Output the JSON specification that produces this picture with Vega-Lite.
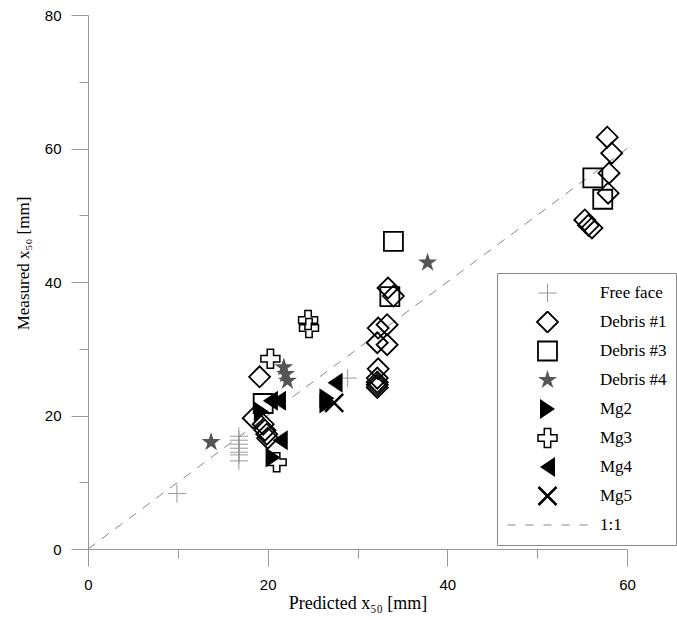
{
  "$schema": "https://vega.github.io/schema/vega-lite/v6.json",
  "width": 539,
  "height": 534,
  "autosize": "none",
  "padding": {"left": 88, "top": 15, "right": 50, "bottom": 71},
  "background": "white",
  "config": {
    "view": {"stroke": null},
    "axis": {
      "grid": false,
      "domainColor": "#999",
      "tickColor": "#999",
      "tickWidth": 1,
      "domainWidth": 1,
      "labelFont": "Liberation Sans",
      "labelFontSize": 15,
      "labelColor": "black",
      "labelOverlap": false,
      "labelFlush": false,
      "titleFont": "Liberation Serif",
      "titleFontSize": 18,
      "titleFontWeight": "normal",
      "titleColor": "black"
    }
  },
  "encoding": {
    "x": {
      "field": "x",
      "type": "quantitative",
      "scale": {"domain": [0, 60], "nice": false, "zero": false},
      "axis": {
        "values": [0, 10, 20, 30, 40, 50, 60],
        "tickSize": {"condition": {"test": "datum.value % 20 === 0", "value": 17}, "value": 9},
        "labelExpr": "datum.value % 20 === 0 ? datum.label : ''",
        "labelPadding": 11,
        "title": "Predicted x₅₀ [mm]",
        "titlePadding": 2
      }
    },
    "y": {
      "field": "y",
      "type": "quantitative",
      "scale": {"domain": [0, 80], "nice": false, "zero": false},
      "axis": {
        "values": [0, 10, 20, 30, 40, 50, 60, 70, 80],
        "tickSize": {"condition": {"test": "datum.value % 20 === 0", "value": 17}, "value": 9},
        "labelExpr": "datum.value % 20 === 0 ? datum.label : ''",
        "labelPadding": 10,
        "title": "Measured x₅₀ [mm]",
        "titlePadding": 12,
        "titleFontSize": 17,
        "titleY": 248
      }
    }
  },
  "layer": [
    {
      "data": {"values": [{"x": 0, "y": 0}, {"x": 60, "y": 60}]},
      "mark": {"type": "line", "stroke": "#888", "strokeWidth": 1, "strokeDash": [9, 8]}
    },
    {
      "data": {
        "values": [
          {"s": "Free face", "x": 9.9, "y": 8.3},
          {"s": "Free face", "x": 16.8, "y": 16.9},
          {"s": "Free face", "x": 16.8, "y": 16.3},
          {"s": "Free face", "x": 16.8, "y": 15.7},
          {"s": "Free face", "x": 16.8, "y": 15.1},
          {"s": "Free face", "x": 16.8, "y": 14.5},
          {"s": "Free face", "x": 16.8, "y": 14.1},
          {"s": "Free face", "x": 16.8, "y": 13.2},
          {"s": "Free face", "x": 28.9, "y": 25.6},
          {"s": "Debris #1", "x": 19.1, "y": 25.8},
          {"s": "Debris #1", "x": 18.4, "y": 19.6},
          {"s": "Debris #1", "x": 19.5, "y": 18.7},
          {"s": "Debris #1", "x": 19.7, "y": 17.8},
          {"s": "Debris #1", "x": 19.9, "y": 17.2},
          {"s": "Debris #1", "x": 20.0, "y": 16.6},
          {"s": "Debris #1", "x": 33.4, "y": 39.1},
          {"s": "Debris #1", "x": 34.0, "y": 37.9},
          {"s": "Debris #1", "x": 32.3, "y": 33.1},
          {"s": "Debris #1", "x": 33.3, "y": 33.6},
          {"s": "Debris #1", "x": 32.2, "y": 30.9},
          {"s": "Debris #1", "x": 33.3, "y": 30.6},
          {"s": "Debris #1", "x": 32.3, "y": 27.0},
          {"s": "Debris #1", "x": 32.2, "y": 25.6},
          {"s": "Debris #1", "x": 32.2, "y": 25.0},
          {"s": "Debris #1", "x": 32.2, "y": 24.6},
          {"s": "Debris #1", "x": 32.2, "y": 24.2},
          {"s": "Debris #1", "x": 57.8, "y": 61.7},
          {"s": "Debris #1", "x": 58.3, "y": 59.3},
          {"s": "Debris #1", "x": 58.0, "y": 56.3},
          {"s": "Debris #1", "x": 57.9, "y": 53.3},
          {"s": "Debris #1", "x": 55.3, "y": 49.3},
          {"s": "Debris #1", "x": 55.7, "y": 48.5},
          {"s": "Debris #1", "x": 56.1, "y": 48.1},
          {"s": "Debris #3", "x": 19.5, "y": 21.8},
          {"s": "Debris #3", "x": 34.0, "y": 46.1},
          {"s": "Debris #3", "x": 33.6, "y": 37.8},
          {"s": "Debris #3", "x": 56.2, "y": 55.6},
          {"s": "Debris #3", "x": 57.3, "y": 52.4},
          {"s": "Debris #4", "x": 13.7, "y": 16.0},
          {"s": "Debris #4", "x": 21.8, "y": 27.2},
          {"s": "Debris #4", "x": 22.0, "y": 26.2},
          {"s": "Debris #4", "x": 22.2, "y": 25.2},
          {"s": "Debris #4", "x": 37.8, "y": 42.9},
          {"s": "Mg2", "x": 19.3, "y": 20.6},
          {"s": "Mg2", "x": 20.6, "y": 13.7},
          {"s": "Mg2", "x": 26.6, "y": 22.6},
          {"s": "Mg2", "x": 26.6, "y": 21.8},
          {"s": "Mg3", "x": 20.3, "y": 28.5},
          {"s": "Mg3", "x": 24.5, "y": 34.3},
          {"s": "Mg3", "x": 24.6, "y": 33.1},
          {"s": "Mg3", "x": 21.0, "y": 13.0},
          {"s": "Mg4", "x": 20.3, "y": 22.2},
          {"s": "Mg4", "x": 21.2, "y": 22.2},
          {"s": "Mg4", "x": 21.4, "y": 16.3},
          {"s": "Mg4", "x": 27.5, "y": 24.9},
          {"s": "Mg5", "x": 27.4, "y": 21.9}
        ]
      },
      "mark": {"type": "point", "opacity": 1, "size": 400},
      "encoding": {
        "shape": {
          "field": "s",
          "type": "nominal",
          "scale": {
            "domain": ["Free face", "Debris #1", "Debris #3", "Debris #4", "Mg2", "Mg3", "Mg4", "Mg5", "1:1"],
            "range": [
              "M-0.9,0H0.9M0,-0.9V0.9",
              "M-1.05,0L0,-1.05L1.05,0L0,1.05Z",
              "M-0.95,-0.95H0.95V0.95H-0.95Z",
              "M0,-1L0.2245,-0.309L0.9511,-0.309L0.3633,0.118L0.5878,0.809L0,0.382L-0.5878,0.809L-0.3633,0.118L-0.9511,-0.309L-0.2245,-0.309Z",
              "M-0.75,-1L0.75,0L-0.75,1Z",
              "M-0.32,-0.95H0.32V-0.32H0.95V0.32H0.32V0.95H-0.32V0.32H-0.95V-0.32H-0.32Z",
              "M0.75,-1L-0.75,0L0.75,1Z",
              "M-0.9,-0.9L0.9,0.9M-0.9,0.9L0.9,-0.9",
              "M-4,0H-3.2M-2.2,0H-1.4M-0.4,0H0.4M1.4,0H2.2M3.2,0H4"
            ]
          },
          "legend": {"title": null, "orient": "none", "legendX": 409, "legendY": 258, "padding": 9, "rowPadding": 7, "clipHeight": 22, "symbolOffset": 30, "labelOffset": 41, "labelFont": "Liberation Serif", "labelFontSize": 17, "labelColor": "black", "strokeColor": "#888", "fillColor": "white", "symbolSize": 400, "labelLimit": 300}
        },
        "fill": {
          "field": "s",
          "type": "nominal",
          "scale": {
            "domain": ["Free face", "Debris #1", "Debris #3", "Debris #4", "Mg2", "Mg3", "Mg4", "Mg5", "1:1"],
            "range": ["transparent", "transparent", "transparent", "#555555", "black", "transparent", "black", "transparent", "transparent"]
          },
          "legend": {"title": null, "orient": "none", "legendX": 409, "legendY": 258, "padding": 9, "rowPadding": 7, "clipHeight": 22, "symbolOffset": 30, "labelOffset": 41, "labelFont": "Liberation Serif", "labelFontSize": 17, "labelColor": "black", "strokeColor": "#888", "fillColor": "white", "symbolSize": 400, "labelLimit": 300}
        },
        "stroke": {
          "field": "s",
          "type": "nominal",
          "scale": {
            "domain": ["Free face", "Debris #1", "Debris #3", "Debris #4", "Mg2", "Mg3", "Mg4", "Mg5", "1:1"],
            "range": ["#999999", "black", "black", "transparent", "transparent", "black", "transparent", "black", "#888888"]
          },
          "legend": {"title": null, "orient": "none", "legendX": 409, "legendY": 258, "padding": 9, "rowPadding": 7, "clipHeight": 22, "symbolOffset": 30, "labelOffset": 41, "labelFont": "Liberation Serif", "labelFontSize": 17, "labelColor": "black", "strokeColor": "#888", "fillColor": "white", "symbolSize": 400, "labelLimit": 300}
        },
        "strokeWidth": {
          "field": "s",
          "type": "nominal",
          "scale": {
            "type": "ordinal",
            "domain": ["Free face", "Debris #1", "Debris #3", "Debris #4", "Mg2", "Mg3", "Mg4", "Mg5", "1:1"],
            "range": [1, 1.8, 1.8, 0, 0, 1.5, 0, 2.5, 1.2]
          },
          "legend": {"title": null, "orient": "none", "legendX": 409, "legendY": 258, "padding": 9, "rowPadding": 7, "clipHeight": 22, "symbolOffset": 30, "labelOffset": 41, "labelFont": "Liberation Serif", "labelFontSize": 17, "labelColor": "black", "strokeColor": "#888", "fillColor": "white", "symbolSize": 400, "labelLimit": 300}
        }
      }
    }
  ]
}
